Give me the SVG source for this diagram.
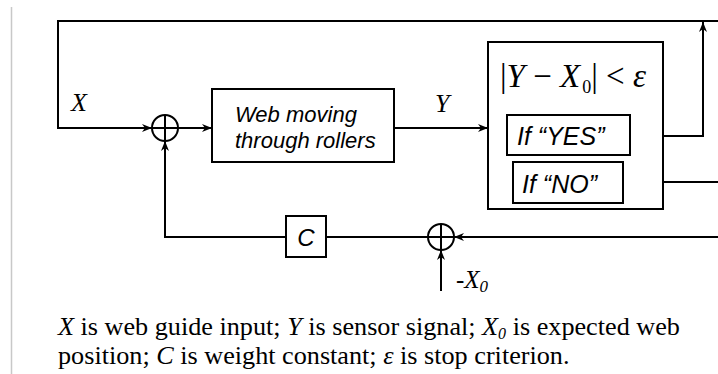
<svg xmlns="http://www.w3.org/2000/svg" width="718" height="374" viewBox="0 0 718 374">
<style>
.ln{fill:none;stroke:#000;stroke-width:2}
.bx{fill:#fff;stroke:#000;stroke-width:2}
.sans{font-family:"Liberation Sans",Arial,sans-serif;font-style:italic;fill:#000}
.serif{font-family:"Liberation Serif","Times New Roman",serif;fill:#000}
.it{font-style:italic}
</style>
<defs>
<marker id="ah" viewBox="0 0 10 10" refX="10" refY="5" markerWidth="10" markerHeight="10" markerUnits="userSpaceOnUse" orient="auto">
<path d="M0,1 L10,5 L0,9 L3,5 Z" fill="#000"/>
</marker>
</defs>
<rect width="718" height="374" fill="#fff"/>
<line x1="11.5" y1="7" x2="11.5" y2="374" stroke="#c8c8c8" stroke-width="1.5"/>
<g id="connectors">
<path class="ln" d="M718,21 H58 V128 H152" marker-end="url(#ah)"/>
<path class="ln" d="M178,128 H212" marker-end="url(#ah)"/>
<path class="ln" d="M394,128 H488" marker-end="url(#ah)"/>
<path class="ln" d="M630,136 H703 V22" marker-end="url(#ah)"/>
<path class="ln" d="M623,182 H718"/>
<path class="ln" d="M718,237 H454" marker-end="url(#ah)"/>
<path class="ln" d="M428,237 H326"/>
<path class="ln" d="M286,237 H165 V141" marker-end="url(#ah)"/>
<path class="ln" d="M441,291 V250" marker-end="url(#ah)"/>
</g>
<g id="sum1">
<circle cx="165" cy="128" r="13" class="ln"/>
<path class="ln" d="M152,128 H178 M165,115 V141"/>
</g>
<g id="sum2">
<circle cx="441" cy="237" r="13" class="ln"/>
<path class="ln" d="M428,237 H454 M441,224 V250"/>
</g>
<g id="web">
<rect x="212" y="89" width="182" height="73" class="bx"/>
<text x="235" y="122" class="sans" font-size="22">Web moving</text>
<text x="235" y="148" class="sans" font-size="22">through rollers</text>
</g>
<g id="check">
<rect x="488" y="42" width="175" height="167" class="bx"/>
<text x="500" y="87" class="serif" font-size="33"><tspan>|</tspan><tspan class="it">Y</tspan><tspan> − </tspan><tspan class="it">X</tspan><tspan font-size="18" dy="6" dx="2">0</tspan><tspan dy="-6">| &lt; </tspan><tspan class="it">ε</tspan></text>
</g>
<g id="yes">
<rect x="507" y="115" width="123" height="40" class="bx"/>
<text x="517" y="145" class="sans" font-size="25">If “YES”</text>
</g>
<g id="no">
<rect x="513" y="162" width="110" height="41" class="bx"/>
<text x="522" y="193" class="sans" font-size="25">If “NO”</text>
</g>
<g id="weight">
<rect x="286" y="216" width="40" height="41" class="bx"/>
<text x="306" y="246" text-anchor="middle" class="sans" font-style="normal" font-size="24">C</text>
</g>
<g id="labels">
<text x="71" y="111" class="serif it" font-size="26">X</text>
<text x="435" y="112" class="serif it" font-size="26">Y</text>
<text x="456" y="288" class="serif it" font-size="25">-X<tspan font-size="17" dy="4">0</tspan></text>
</g>
<g id="caption" class="serif" font-size="26.2">
<text x="58" y="335"><tspan class="it">X</tspan> is web guide input; <tspan class="it">Y</tspan> is sensor signal; <tspan class="it">X<tspan font-size="16" dy="4">0</tspan></tspan><tspan dy="-4"> is expected web</tspan></text>
<text x="58" y="364">position; <tspan class="it">C</tspan> is weight constant; <tspan class="it">ε</tspan> is stop criterion.</text>
</g>
</svg>
